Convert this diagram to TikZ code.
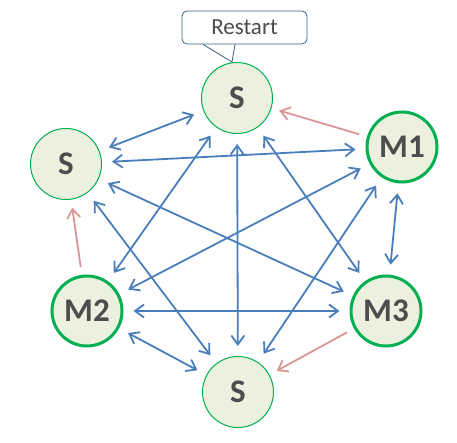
\documentclass[tikz,border=0pt]{standalone}
\usepackage{fontspec}
\setmainfont{Carlito}
\usetikzlibrary{arrows.meta}
\definecolor{nodefill}{HTML}{EBF1DE}
\definecolor{nodeline}{HTML}{00B050}
\definecolor{linkblue}{HTML}{4A7EBB}
\definecolor{linkred}{HTML}{D99694}
\definecolor{labelgray}{HTML}{4D4D4D}
\definecolor{calloutline}{HTML}{385D8A}
\begin{document}
\begin{tikzpicture}[x=1pt,y=-1pt,
  snode/.style={circle,draw=nodeline,fill=nodefill,line width=1pt,minimum size=71pt,inner sep=0pt,text=labelgray,font=\bfseries\fontsize{33}{33}\selectfont},
  mnode/.style={snode,line width=3pt,minimum size=70pt},
  link/.style={linkblue,line width=1.8pt,line cap=round,{Straight Barb[length=9pt,width=13pt]}-{Straight Barb[length=9pt,width=13pt]},shorten <=10pt,shorten >=10pt},
  promote/.style={linkred,line width=1.8pt,-{Straight Barb[length=9pt,width=13pt]},shorten <=8pt,shorten >=8pt},
  calloutbox/.style={draw=calloutline,fill=white,rounded corners=5pt,line width=0.8pt,minimum width=125pt,minimum height=33pt,inner sep=0pt,text=labelgray,font=\fontsize{23}{23}\selectfont}]
\useasboundingbox (0,0) rectangle (457,443);
\node[snode] (top) at (237,98) {S};
\node[snode] (left) at (66,164) {S};
\node[snode] (bottom) at (238,392) {S};
\node[mnode] (m1) at (402,147) {M1};
\node[mnode] (m2) at (87,311) {M2};
\node[mnode] (m3) at (386,311) {M3};
\node[calloutbox] (restart) at (244.5,27.5) {Restart};
\coordinate (tip) at (232,62);
\fill[white] ([xshift=-40pt,yshift=-1.5pt]restart.south) -- (tip) -- ([xshift=-10.5pt,yshift=-1.5pt]restart.south) -- cycle;
\draw[calloutline,line width=0.8pt] ([xshift=-41.5pt]restart.south) -- (tip) -- ([xshift=-9.5pt]restart.south);
\draw[link] (top) -- (left);
\draw[link] (top) -- (bottom);
\draw[link] (top) -- (m2);
\draw[link] (top) -- (m3);
\draw[link] (left) -- (m1);
\draw[link] (left) -- (m3);
\draw[link] (left) -- (bottom);
\draw[link] (m2) -- (m1);
\draw[link] (m2) -- (m3);
\draw[link] (m2) -- (bottom);
\draw[link] (m1) -- (m3);
\draw[link] (m1) -- (bottom);
\draw[promote] (m1) -- (top);
\draw[promote] (m2) -- (left);
\draw[promote] (m3) -- (bottom);
\end{tikzpicture}
\end{document}
